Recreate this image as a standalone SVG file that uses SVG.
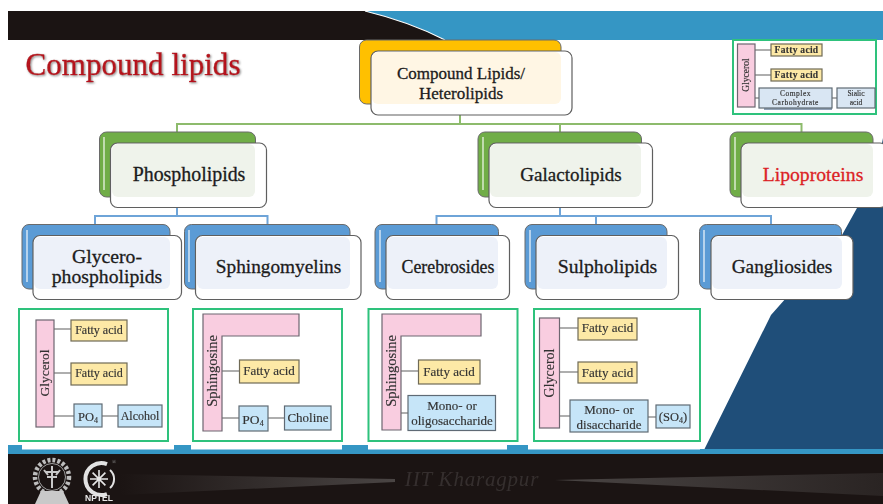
<svg xmlns="http://www.w3.org/2000/svg" width="883" height="504" viewBox="0 0 883 504">
<style>
text{font-family:"Liberation Serif","Times New Roman",serif;text-anchor:middle}
.n{font-size:19.500px;fill:#1c1c1c;stroke:#1c1c1c;stroke-width:.3}
.bk{stroke:#6a6a6a;stroke-width:1}
.a{fill:#ffc000}.g{fill:#70ad47}.b{fill:#5b9bd5}
.fr{fill:#fff;stroke:#5f5f5f;stroke-width:1.2}
.ov{stroke:none}
.cg{fill:none;stroke:#8dbb6c;stroke-width:2}
.cb{fill:none;stroke:#6ea4d8;stroke-width:2}
.gb{fill:#fff;stroke:#2fc27c;stroke-width:2}
.pk{fill:#f9cde0;stroke:#6d6670;stroke-width:1.2}
.ye{fill:#fde9a6;stroke:#6f6a55;stroke-width:1.2}
.bl{fill:#c6e5f8;stroke:#5f6b74;stroke-width:1.2}
.ln{fill:none;stroke:#5f5f5f;stroke-width:1.2}
.s{font-size:12.500px;fill:#333;stroke:#333;stroke-width:.15}
.hl{fill:none;stroke:#fff;stroke-width:1.6;opacity:.7}
</style>
<defs>
<filter id="sh" x="-5%" y="-20%" width="110%" height="140%"><feDropShadow dx="1" dy="1" stdDeviation=".8" flood-color="#888"/></filter>
<filter id="bl" x="-5%" y="-5%" width="110%" height="110%"><feGaussianBlur stdDeviation=".35"/></filter>
<linearGradient id="st1" x1="0" x2="1" y1="0" y2="0"><stop offset="0" stop-color="#1b1413"/><stop offset="1" stop-color="#4a4544"/></linearGradient>
<linearGradient id="st2" x1="0" x2="1" y1="0" y2="0"><stop offset="0" stop-color="#4a4544"/><stop offset="1" stop-color="#2a2423"/></linearGradient>
</defs>
<rect width="883" height="504" fill="#fff"/>
<g id="background">
<path d="M704 450 L771 315 L842 235 L857 208 L873 190 L883 138 L883 450Z" fill="#1f4e79"/>
<rect x="8" y="11" width="875" height="29" fill="#1b1413"/>
<path d="M365 11 Q410 22 445 40 L883 40 L883 11Z" fill="#3596c4"/>
<path d="M365 11 Q410 22 445 40" fill="none" stroke="#fff" stroke-width="1.2"/>
<rect x="8" y="449" width="875" height="55" fill="#1b1413"/>
<rect x="8" y="449" width="875" height="5" fill="#3596c4"/>
<rect x="22" y="444" width="152" height="5.500" fill="#fff"/>
<rect x="191" y="444" width="151" height="5.500" fill="#fff"/>
<rect x="368" y="444" width="139" height="5.500" fill="#fff"/>
<rect x="528" y="444" width="172" height="5.500" fill="#fff"/>
<path d="M8 449V445H22V449ZM174 449V445H191V449ZM342 449V445H368V449ZM507 449V445H528V449Z" fill="#3596c4"/>
<path d="M120 474 L395 479 L395 482 L120 495Z" fill="url(#st1)"/>
<path d="M555 480 L883 473 L883 496Z" fill="url(#st2)"/>
</g>
<text x="133" y="75" style="font-size:32px;fill:#b5121b;stroke:#b5121b;stroke-width:.4" textLength="215" lengthAdjust="spacingAndGlyphs" filter="url(#sh)">Compound lipids</text>
<g id="connectors">
<path class="cg" d="M177 132V124H801.500V132M460 115V124M560 124V132"/>
<path class="cb" d="M95 224V216H267.500V224M177 207V216M436.500 224V216H771V224M560 207V216M596 216V224"/>
</g>
<g id="node-compound">
<rect class="a bk" x="359.500" y="40" width="201.500" height="64" rx="7"/>
<rect class="fr" x="371" y="51" width="201" height="64" rx="7"/>
<rect class="ov" x="372" y="52" width="189" height="52" rx="6" fill="#fff6e4"/>
<text class="n" x="461" y="79" style="font-size:17px">Compound Lipids/</text>
<text class="n" x="461" y="99" style="font-size:17px">Heterolipids</text>
</g>
<g id="node-phospholipids">
<rect class="g bk" x="99.500" y="132" width="156" height="65" rx="7"/>
<path class="hl" d="M104 137V190"/>
<rect class="fr" x="110.500" y="143" width="156" height="64.500" rx="7"/>
<rect class="ov" x="112" y="144" width="143" height="53" rx="6" fill="#eff3eb"/>
<text class="n" x="189" y="181" style="font-size:19.900px">Phospholipids</text>
</g>
<g id="node-galactolipids">
<rect class="g bk" x="478" y="132" width="163.500" height="65" rx="7"/>
<path class="hl" d="M483 137V190"/>
<rect class="fr" x="489" y="143" width="163.500" height="64.500" rx="7"/>
<rect class="ov" x="490" y="144" width="151" height="53" rx="6" fill="#eff3eb"/>
<text class="n" x="571" y="181" style="font-size:19px">Galactolipids</text>
</g>
<g id="node-lipoproteins">
<rect class="g bk" x="730" y="132" width="143" height="65" rx="7"/>
<path class="hl" d="M735 137V190"/>
<rect class="fr" x="741" y="143" width="146" height="64.500" rx="7"/>
<rect class="ov" x="742" y="144" width="131" height="53" rx="6" fill="#eff3eb"/>
<text class="n" x="813" y="181" style="font-size:19.700px;fill:#dc1f26;stroke:#dc1f26">Lipoproteins</text>
</g>
<g id="node-glycero">
<rect class="b bk" x="22" y="224.500" width="148" height="64.500" rx="7"/>
<path class="hl" d="M27 230V282"/>
<rect class="fr" x="33" y="235.500" width="148.500" height="64" rx="7"/>
<rect class="ov" x="34" y="237" width="136" height="52" rx="6" fill="#edf1f9"/>
<text class="n" x="107" y="263" style="font-size:19.700px">Glycero-</text>
<text class="n" x="107" y="283" style="font-size:19.700px">phospholipids</text>
</g>
<g id="node-sphingomyelins">
<rect class="b bk" x="184.500" y="224.500" width="165.500" height="64.500" rx="7"/>
<path class="hl" d="M189 230V282"/>
<rect class="fr" x="195.500" y="235.500" width="165.500" height="64" rx="7"/>
<rect class="ov" x="197" y="237" width="153" height="52" rx="6" fill="#edf1f9"/>
<text class="n" x="278.500" y="273" style="font-size:19.300px">Sphingomyelins</text>
</g>
<g id="node-cerebrosides">
<rect class="b bk" x="375" y="224.500" width="123.500" height="64.500" rx="7"/>
<path class="hl" d="M380 230V282"/>
<rect class="fr" x="386" y="235.500" width="123.500" height="64" rx="7"/>
<rect class="ov" x="387" y="237" width="111" height="52" rx="6" fill="#edf1f9"/>
<text class="n" x="448" y="273" style="font-size:17.800px">Cerebrosides</text>
</g>
<g id="node-sulpholipids">
<rect class="b bk" x="525" y="224.500" width="142" height="64.500" rx="7"/>
<path class="hl" d="M530 230V282"/>
<rect class="fr" x="536" y="235.500" width="142.500" height="64" rx="7"/>
<rect class="ov" x="537" y="237" width="130" height="52" rx="6" fill="#edf1f9"/>
<text class="n" x="607.500" y="273" style="font-size:19.700px">Sulpholipids</text>
</g>
<g id="node-gangliosides">
<rect class="b bk" x="699.500" y="224.500" width="142" height="64.500" rx="7"/>
<path class="hl" d="M704 230V282"/>
<rect class="fr" x="711" y="235.500" width="142" height="64" rx="7"/>
<rect class="ov" x="712" y="237" width="130" height="52" rx="6" fill="#edf1f9"/>
<text class="n" x="782" y="273" style="font-size:19.300px">Gangliosides</text>
</g>
<g id="box-glycerophospholipid" filter="url(#bl)">
<rect class="gb" x="19" y="309" width="149" height="132"/>
<path class="ln" d="M54 329H71M54 373H71M54 416H74M102 416H118"/>
<rect class="pk" x="36" y="320" width="18" height="107"/>
<text class="s" transform="translate(49 373) rotate(-90)" style="font-size:13.500px">Glycerol</text>
<rect class="ye" x="71" y="320" width="56" height="21"/><text class="s" x="99" y="334" style="font-size:12px">Fatty acid</text>
<rect class="ye" x="71" y="363" width="56" height="22"/><text class="s" x="99" y="377" style="font-size:12px">Fatty acid</text>
<rect class="bl" x="74" y="404" width="28" height="23"/><text class="s" x="88" y="421">PO<tspan font-size="8" dy="2">4</tspan></text>
<rect class="bl" x="118" y="405" width="44" height="22"/><text class="s" x="140" y="420" style="font-size:12px">Alcohol</text>
</g>
<g id="box-sphingomyelin" filter="url(#bl)">
<rect class="gb" x="193" y="309" width="149" height="132"/>
<path class="ln" d="M222 371H239.500M222 418H239M268 418H284.500"/>
<path class="pk" d="M203 314H299V336H222V431H203Z"/>
<text class="s" transform="translate(217 371) rotate(-90)" style="font-size:14.500px">Sphingosine</text>
<rect class="ye" x="239.500" y="360" width="59.500" height="23"/><text class="s" x="269" y="375" style="font-size:13px">Fatty acid</text>
<rect class="bl" x="239" y="406" width="29" height="25"/><text class="s" x="253" y="424" style="font-size:13.500px">PO<tspan font-size="8" dy="2">4</tspan></text>
<rect class="bl" x="284.500" y="406" width="46.500" height="24"/><text class="s" x="308" y="422" style="font-size:13px">Choline</text>
</g>
<g id="box-cerebroside" filter="url(#bl)">
<rect class="gb" x="368.500" y="309" width="149" height="132"/>
<path class="ln" d="M401 371H418.500M401 413H408"/>
<path class="pk" d="M382 314H481V336H401V430H382Z"/>
<text class="s" transform="translate(396 371) rotate(-90)" style="font-size:14.500px">Sphingosine</text>
<rect class="ye" x="418.500" y="360" width="61.500" height="24"/><text class="s" x="449" y="376" style="font-size:13px">Fatty acid</text>
<rect class="bl" x="408" y="395.500" width="87.500" height="35"/>
<text class="s" x="452" y="410" style="font-size:13px">Mono- or</text><text class="s" x="452" y="425" style="font-size:13px">oligosaccharide</text>
</g>
<g id="box-sulpholipid" filter="url(#bl)">
<rect class="gb" x="534" y="309" width="166" height="132"/>
<path class="ln" d="M559.500 328H578M559.500 372H578M559.500 416H570M648 417H656"/>
<rect class="pk" x="539.500" y="318" width="20" height="110"/>
<text class="s" transform="translate(554 373) rotate(-90)" style="font-size:14px">Glycerol</text>
<rect class="ye" x="578" y="318" width="59" height="22"/><text class="s" x="607.500" y="332" style="font-size:13px">Fatty acid</text>
<rect class="ye" x="578" y="362" width="59" height="21"/><text class="s" x="607.500" y="377" style="font-size:13px">Fatty acid</text>
<rect class="bl" x="570" y="400" width="78" height="32"/>
<text class="s" x="609" y="414" style="font-size:13px">Mono- or</text><text class="s" x="609" y="429" style="font-size:13px">disaccharide</text>
<rect class="bl" x="656" y="405" width="34" height="23"/><text class="s" x="673" y="421">(SO<tspan font-size="8" dy="2">4</tspan><tspan dy="-2">)</tspan></text>
</g>
<g id="box-glycolipid" filter="url(#bl)">
<rect class="gb" x="733" y="40" width="143" height="74"/>
<path class="ln" d="M755 50H771M755 75H771M755 98H759M832 98H837"/>
<rect class="pk" x="737.500" y="44" width="17.500" height="63"/>
<text class="s" style="font-size:9.500px" transform="translate(749 75) rotate(-90)">Glycerol</text>
<rect class="ye" x="771" y="44" width="51" height="12"/><text class="s" x="796.500" y="53" style="font-size:9.500px;font-weight:bold;letter-spacing:.3px">Fatty acid</text>
<rect class="ye" x="771" y="69" width="51" height="12"/><text class="s" x="796.500" y="78" style="font-size:9.500px;font-weight:bold;letter-spacing:.3px">Fatty acid</text>
<rect x="764" y="92" width="68" height="18" fill="#8fa0b5"/>
<rect class="bl" x="759" y="88" width="73" height="20" style="fill:#d9e6f3"/>
<text class="s" x="795.500" y="96" style="font-size:7.500px;letter-spacing:.5px">Complex</text><text class="s" x="795.500" y="105" style="font-size:7.500px;letter-spacing:.5px">Carbohydrate</text>
<rect class="bl" x="837" y="88" width="38" height="20" style="fill:#d9e6f3"/>
<text class="s" x="856" y="96" style="font-size:7.500px">Sialic</text><text class="s" x="856" y="105" style="font-size:7.500px">acid</text>
</g>
<g id="logos" filter="url(#bl)">
<circle cx="52" cy="477" r="17" fill="none" stroke="#bdbdbd" stroke-width="4.500" stroke-dasharray="3 2"/>
<circle cx="52" cy="477" r="13.500" fill="none" stroke="#9f9f9f" stroke-width="1"/>
<path d="M52 466V488M45 472H59M47 477H57M44 470L48 475M60 470L56 475" stroke="#c9c9c9" stroke-width="2" fill="none"/>
<path d="M35 504L41 491H63L69 504Z" fill="#c9c9c9"/>
<path d="M107 464A16 16 0 1 0 107 494" fill="none" stroke="#e2e2e2" stroke-width="4"/>
<path d="M110 470A12 12 0 0 1 110 488" fill="none" stroke="#e2e2e2" stroke-width="2"/>
<path d="M99 470V488M90 479H108M92.600 472.600L105.400 485.400M92.600 485.400L105.400 472.600" stroke="#e6e6e6" stroke-width="1.600"/>
<text x="99" y="501" style="font-family:'Liberation Sans',sans-serif;font-size:8.500px;font-weight:bold;fill:#e8e8e8">NPTEL</text>
<text x="114" y="464" style="font-size:6px;fill:#8a8a8a">®</text>
</g>
<text x="472" y="486" style="font-size:21px;font-style:italic;fill:#352f2e;letter-spacing:.8px" filter="url(#bl)">IIT Kharagpur</text>
</svg>
